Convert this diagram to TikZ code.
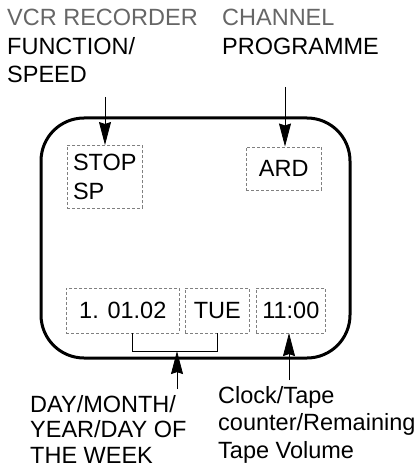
\documentclass[tikz,border=0pt]{standalone}
\usepackage{fontspec}
\setmainfont{Liberation Sans}
\usetikzlibrary{arrows.meta}

\begin{document}
\begin{tikzpicture}[
x=1pt,y=-1pt,
>={Stealth[length=23pt,width=12pt,inset=2pt]},
label/.style={
align=left,
inner sep=0pt,
anchor=base west,
font=\fontsize{23.5}{28.5}\selectfont
},
dispbox/.style={
draw=gray,
densely dashed,
line width=0.6pt,
inner sep=0pt,
anchor=north west,
align=left,
font=\fontsize{23.5}{29}\selectfont
},
screen/.style={
line width=3pt,
rounded corners=43pt
},
arrow/.style={->,line width=0.8pt}
]

\useasboundingbox (0,0) rectangle (419,468);

%---------------- Screen ----------------%

\draw[screen] (41,118) rectangle (350,358);

\node[dispbox,minimum width=75pt,minimum height=63pt] (mode) at (67,145) {STOP\\SP};

\node[dispbox,minimum width=75pt,minimum height=43.5pt] (chan) at (246,146.5) {ARD};

\node[dispbox,minimum width=113pt,minimum height=45pt] (date) at (66,287.5) {1. 01.02};

\node[dispbox,minimum width=64pt,minimum height=45pt] (day) at (185,287.5) {TUE};

\node[dispbox,minimum width=69pt,minimum height=45pt] (clock) at (256,287.5) {11:00};

%---------------- Labels ----------------%

% base = baseline of the last line
\node[label] (vcrlabel) at (7,82.7)
{{\color{black!60}VCR RECORDER}\\FUNCTION/\\SPEED};

\node[label] (chanlabel) at (222,54.2)
{{\color{black!60}CHANNEL}\\PROGRAMME};

\node[label,font=\fontsize{23.5}{25.6}\selectfont] (datelabel) at (30,463.5)
{DAY/MONTH/\\YEAR/DAY OF\\THE WEEK};

\node[label,font=\fontsize{23.5}{27.4}\selectfont] (clocklabel) at (218,458)
{Clock/Tape\\counter/Remaining\\Tape Volume};

%---------------- Connections ----------------%

\coordinate (modetop) at (105,97);
\coordinate (chantop) at (285,87);
\coordinate (dayfoot) at (177,389);
\coordinate (clockfoot) at (289,380);

\draw[line width=0.8pt] ([xshift=9.5pt]date.south) -- ++(0,18) coordinate (brk) -| (day.south);

\draw[arrow] (modetop)--(modetop |- mode.north);
\draw[arrow] (chantop)--(chantop |- chan.north);
\draw[arrow] (dayfoot)--(dayfoot |- brk);
\draw[arrow] (clockfoot)--(clockfoot |- clock.south);

\end{tikzpicture}
\end{document}
